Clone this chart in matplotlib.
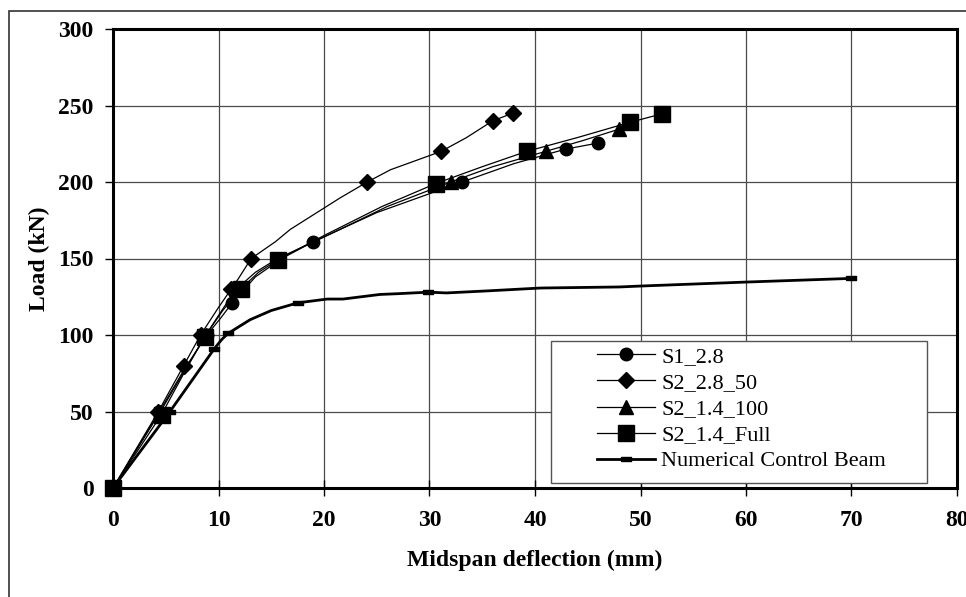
import matplotlib.pyplot as plt
from matplotlib.patches import Rectangle

# Load-deflection data
s1_x = [0, 4.4, 6.8, 8.9, 10.2, 11.3, 13.5, 16.0, 19.0, 25.0, 33.1, 38.0, 42.9, 46.0]
s1_y = [0, 50, 78, 100, 111, 121, 138, 150, 161, 180, 200, 212, 221.5, 225.5]
s1_mk = [0, 1, 3, 5, 8, 10, 12, 13]

s2a_x = [0, 4.3, 6.7, 8.3, 10.0, 11.2, 11.9, 13.1, 15.4, 16.8, 21.5, 24.1, 26.3, 28.1, 31.1, 33.5, 36.0, 37.9]
s2a_y = [0, 50, 80, 100, 118, 130, 137, 150, 161, 169, 189.5, 200, 208, 212.5, 220, 229, 240, 245]
s2a_mk = [0, 1, 2, 3, 5, 7, 11, 14, 16, 17]

s2b_x = [0, 4.5, 6.9, 8.8, 10.5, 11.7, 13.5, 15.6, 20.0, 26.0, 32.0, 36.0, 41.0, 44.5, 48.0]
s2b_y = [0, 50, 78, 100, 118, 130, 141, 150, 164, 184, 200, 210, 220, 227, 234.6]
s2b_mk = [0, 1, 3, 5, 7, 10, 12, 14]

s2c_x = [0, 4.6, 6.8, 8.7, 10.4, 12.1, 13.8, 15.6, 20.0, 25.5, 30.6, 35.0, 39.2, 44.0, 49.0, 52.0]
s2c_y = [0, 48, 76, 99, 116, 130, 141, 149, 165, 184, 199, 210, 220, 229, 239, 244.5]
s2c_mk = [0, 1, 3, 5, 7, 10, 12, 14, 15]

num_x = [0, 5.4, 9.6, 10.3, 10.9, 13.0, 15.0, 17.5, 20.3, 21.8, 25.3, 27.0, 29.9, 31.6, 35.4, 40.5, 48.0, 50.0, 60.0, 70.0]
num_y = [0, 50, 91, 97, 101, 110, 116, 121, 123.5, 123.5, 126.5, 127, 128, 127.5, 128.8, 130.7, 131.4, 132, 134.6, 137]
num_mk = [1, 2, 4, 7, 12, 19]

x_ticks = [0, 10, 20, 30, 40, 50, 60, 70, 80]
y_ticks = [0, 50, 100, 150, 200, 250, 300]

dash = [(-1, -0.45), (1, -0.45), (1, 0.45), (-1, 0.45), (-1, -0.45)]


def main():
    plt.rcParams['font.family'] = ['Liberation Serif', 'DejaVu Serif']
    fig = plt.figure(figsize=(9.66, 5.97), dpi=100)
    ax = fig.add_axes([113 / 966, 1 - 488 / 597, 844 / 966, 459 / 597])

    # outer frame of the picture
    fig.patches.append(Rectangle((9 / 966, -0.1), 1.2, 1 - 11 / 597 + 0.1,
                                 transform=fig.transFigure, fill=False,
                                 edgecolor='#333333', linewidth=1.2))

    ax.plot(s1_x, s1_y, color='black', lw=0.9, marker='o', ms=9,
            markevery=s1_mk, label='S1_2.8', zorder=4, clip_on=False)
    ax.plot(s2a_x, s2a_y, color='black', lw=0.9, marker='D', ms=8,
            markevery=s2a_mk, label='S2_2.8_50', zorder=4, clip_on=False)
    ax.plot(s2b_x, s2b_y, color='black', lw=0.9, marker='^', ms=10,
            markevery=s2b_mk, label='S2_1.4_100', zorder=4, clip_on=False)
    ax.plot(s2c_x, s2c_y, color='black', lw=0.9, marker='s', ms=11,
            markevery=s2c_mk, label='S2_1.4_Full', zorder=4, clip_on=False)
    ax.plot(num_x, num_y, color='black', lw=2.0, marker=dash, ms=7,
            markevery=num_mk, label='Numerical Control Beam', zorder=4)

    ax.set_xlim(0, 80)
    ax.set_ylim(0, 300)
    ax.set_xticks(x_ticks)
    ax.set_yticks(y_ticks)
    ax.grid(True, color='#4a4a4a', linewidth=0.9)
    ax.set_axisbelow(True)
    for side in ['left', 'bottom', 'top', 'right']:
        ax.spines[side].set_linewidth(2.2)
    ax.tick_params(axis='x', direction='inout', length=11, width=1, pad=10)
    ax.tick_params(axis='y', direction='out', length=6, width=1, pad=8)
    for lbl in ax.get_xticklabels() + ax.get_yticklabels():
        lbl.set_fontweight('bold')
        lbl.set_fontsize(17)

    ax.set_xlabel('Midspan deflection (mm)', fontsize=17, fontweight='bold', labelpad=14)
    ax.set_ylabel('Load (kN)', fontsize=17, fontweight='bold', labelpad=6)

    # legend box drawn separately (wide left margin like the original)
    box = Rectangle((551 / 966, 1 - 483 / 597), 376 / 966, 142 / 597,
                    transform=fig.transFigure, facecolor='white',
                    edgecolor='#555555', linewidth=1.0, zorder=5)
    fig.patches.append(box)

    handles, labels = ax.get_legend_handles_labels()
    leg = fig.legend(handles, labels, loc='center left',
                     bbox_to_anchor=(597 / 966, 1 - 409 / 597),
                     bbox_transform=fig.transFigure, borderaxespad=0,
                     fontsize=16, frameon=False, handlelength=2.6,
                     handletextpad=0.3, labelspacing=0.25, borderpad=0)
    leg.set_zorder(6)

    fig.savefig('out.png', dpi=100)


if __name__ == '__main__':
    main()
